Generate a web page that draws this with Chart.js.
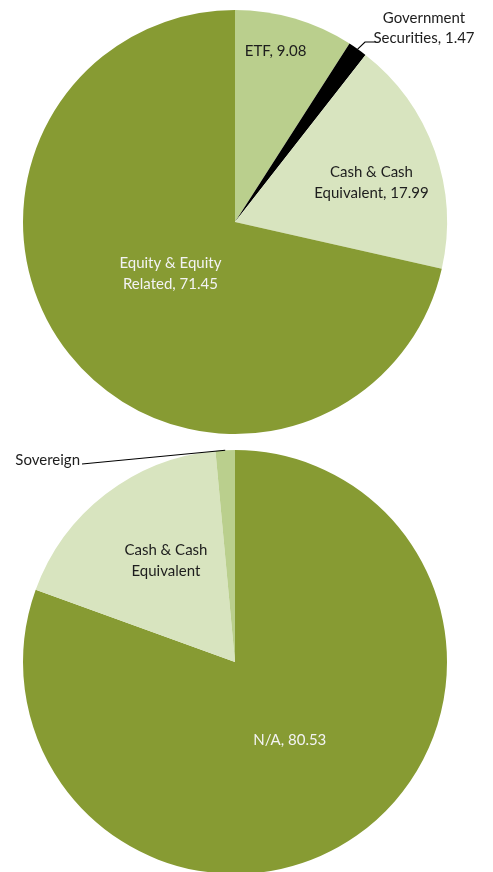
<!DOCTYPE html>
<html>
<head>
<meta charset="utf-8">
<script src="https://cdn.jsdelivr.net/npm/chart.js@4.4.0/dist/chart.umd.min.js"></script>
<style>
  html, body { margin: 0; padding: 0; background: #fff; overflow: hidden; }
  body { width: 493px; height: 872px; position: relative; }
  .box { position: absolute; left: 0; width: 493px; height: 444px; }
  #top { top: 0; }
  #bottom { top: 440px; }
</style>
</head>
<body>
<div class="box" id="top"><canvas id="assetChart"></canvas></div>
<div class="box" id="bottom"><canvas id="ratingChart"></canvas></div>
<script>
// asset allocation (%)
const assetLabels = ["ETF", "Government Securities", "Cash & Cash Equivalent", "Equity & Equity Related"];
const assetValues = [9.08, 1.47, 17.99, 71.45];
const assetColors = ["#bacf8d", "#000000", "#d8e4bf", "#879b33"];

// rating profile (%)
const ratingLabels = ["N/A", "Cash & Cash Equivalent", "Sovereign"];
const ratingValues = [80.53, 17.99, 1.47];
const ratingColors = ["#879b33", "#d8e4bf", "#bacf8d"];

const FONT = "15px Lato";
const DARK = "#1d1d1d";
const LIGHT = "#f3f3f3";

// label placement per slice: inside (radius fraction) or outside with leader line
const assetLabelOpts = [
  { lines: ["ETF, 9.08"], r: 0.83, shift: -3, color: DARK },
  { outside: true, lines: ["Government", "Securities, 1.47"], elbow: [365, 42], lineEnd: [376, 42], textX: 424, textY: [18, 38], align: "center", color: DARK },
  { lines: ["Cash & Cash", "Equivalent, 17.99"], r: 0.67, shift: 3.5, color: DARK },
  { lines: ["Equity & Equity", "Related, 71.45"], r: 0.39, shift: 0, color: LIGHT }
];
const ratingLabelOpts = [
  { lines: ["N/A, 80.53"], r: 0.45, shift: 0, color: LIGHT },
  { lines: ["Cash & Cash", "Equivalent"], r: 0.58, shift: 3.5, color: DARK },
  { outside: true, lines: ["Sovereign"], elbow: null, lineEnd: [82, 24], textX: 80, textY: [20], align: "right", color: DARK }
];

const sliceLabels = {
  id: "sliceLabels",
  afterDatasetsDraw(chart, args, opts) {
    const ctx = chart.ctx;
    const meta = chart.getDatasetMeta(0);
    ctx.save();
    ctx.font = FONT;
    ctx.textBaseline = "middle";
    meta.data.forEach((arc, i) => {
      const o = opts.items[i];
      const p = arc.getProps(["x", "y", "startAngle", "endAngle", "outerRadius"], true);
      const mid = (p.startAngle + p.endAngle) / 2;
      ctx.fillStyle = o.color;
      if (o.outside) {
        const ex = p.x + Math.cos(mid) * p.outerRadius;
        const ey = p.y + Math.sin(mid) * p.outerRadius;
        ctx.strokeStyle = "#000";
        ctx.lineWidth = 1.2;
        ctx.beginPath();
        ctx.moveTo(ex, ey);
        if (o.elbow) ctx.lineTo(o.elbow[0], o.elbow[1]);
        ctx.lineTo(o.lineEnd[0], o.lineEnd[1]);
        ctx.stroke();
        ctx.textAlign = o.align;
        o.lines.forEach((t, k) => ctx.fillText(t, o.textX, o.textY[k]));
      } else {
        const a = mid + (o.shift || 0) * Math.PI / 180;
        const cx = p.x + Math.cos(a) * p.outerRadius * o.r;
        const cy = p.y + Math.sin(a) * p.outerRadius * o.r;
        ctx.textAlign = "center";
        const lh = 21;
        o.lines.forEach((t, k) => {
          ctx.fillText(t, cx, cy + (k - (o.lines.length - 1) / 2) * lh);
        });
      }
    });
    ctx.restore();
  }
};

function makePie(canvasId, labels, values, colors, items) {
  return new Chart(document.getElementById(canvasId), {
    type: "pie",
    data: {
      labels: labels,
      datasets: [{
        data: values,
        backgroundColor: colors,
        borderWidth: 0
      }]
    },
    options: {
      responsive: true,
      maintainAspectRatio: false,
      animation: false,
      // wider canvas keeps the outside labels visible; pie stays centred at x=235
      layout: { padding: { left: 10, right: 33, top: 10, bottom: 10 } },
      plugins: {
        legend: { display: false },
        tooltip: { enabled: false },
        sliceLabels: { items: items }
      }
    },
    plugins: [sliceLabels]
  });
}

makePie("assetChart", assetLabels, assetValues, assetColors, assetLabelOpts);
makePie("ratingChart", ratingLabels, ratingValues, ratingColors, ratingLabelOpts);
</script>
</body>
</html>
